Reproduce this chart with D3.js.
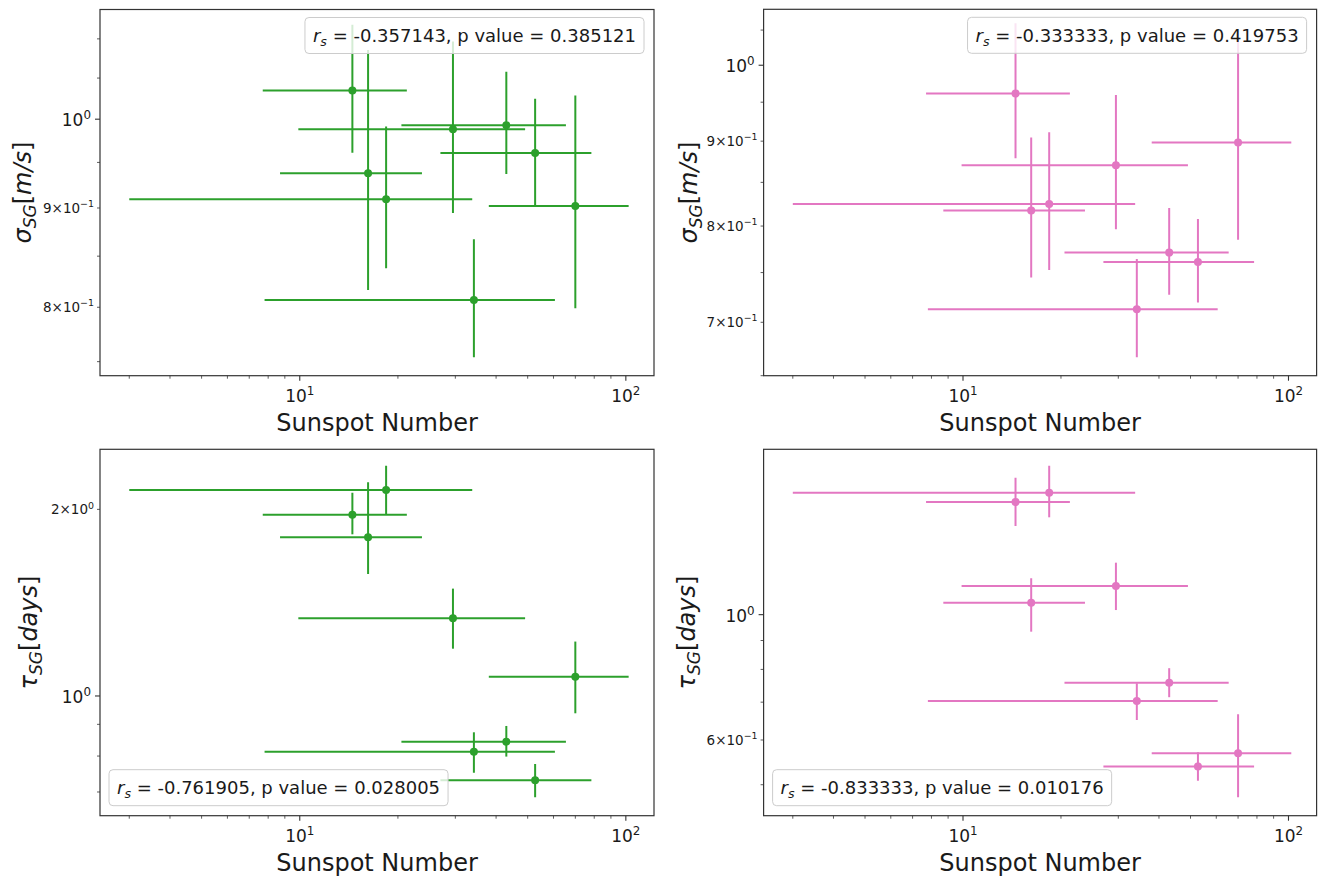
<!DOCTYPE html>
<html><head><meta charset="utf-8">
<script src="https://cdn.jsdelivr.net/npm/d3@7"></script>
<style>
body{margin:0;background:#fff}
text{font-family:"DejaVu Sans",sans-serif;fill:#1a1a1a}
</style>
</head><body>
<svg id="chart" width="1318" height="877"></svg>
<script>
// ---------------- data ----------------
const sunspot    = [14.5, 16.2, 18.4, 29.5, 43.0, 52.7, 70.0, 34.2];
const sunspotErr = [6.8, 7.5, 15.4, 19.6, 22.5, 25.7, 32.0, 26.4];

const sigmaGreen   = [1.0345, 0.9379, 0.9095, 0.9882, 0.9929, 0.9608, 0.9022, 0.8070];
const sigmaGreenLo = [0.9611, 0.8166, 0.8380, 0.8946, 0.9371, 0.9026, 0.7990, 0.7540];
const sigmaGreenHi = [1.1186, 1.0857, 0.9913, 1.0965, 1.0580, 1.0244, 1.0284, 0.8673];

const sigmaPink   = [0.9614, 0.8175, 0.8249, 0.8705, 0.7711, 0.7612, 0.8983, 0.7128];
const sigmaPinkLo = [0.8790, 0.7448, 0.7527, 0.7965, 0.7273, 0.7194, 0.7849, 0.6669];
const sigmaPinkHi = [1.0600, 0.9045, 0.9113, 0.9596, 0.8203, 0.8080, 1.0400, 0.7643];

const tauGreen   = [1.961, 1.803, 2.149, 1.335, 0.8439, 0.7312, 1.074, 0.8132];
const tauGreenLo = [1.823, 1.573, 1.966, 1.192, 0.7984, 0.6864, 0.9377, 0.7522];
const tauGreenHi = [2.128, 2.211, 2.352, 1.490, 0.8946, 0.7768, 1.224, 0.8738];

const tauPink   = [1.583, 1.050, 1.644, 1.124, 0.7580, 0.5383, 0.5684, 0.7035];
const tauPinkLo = [1.436, 0.933, 1.487, 1.019, 0.7143, 0.5083, 0.4751, 0.6509];
const tauPinkHi = [1.748, 1.160, 1.835, 1.236, 0.8040, 0.5707, 0.6664, 0.7560];

const xLimits = [2.44, 122];
const yLimits = [[0.7376, 1.139], [0.650, 1.0807], [0.641, 2.50], [0.4407, 1.962]];

const xMajorTicks  = [10, 100];
const xMajorLabels = [["10", "1"], ["10", "2"]];

const yMajorTicks  = [[1], [1], [1], [1]];
const yMajorLabels = [[["10", "0"]], [["10", "0"]], [["10", "0"]], [["10", "0"]]];
const yMinorLabeledTicks = [[0.9, 0.8], [0.9, 0.8, 0.7], [2], [0.6]];
const yMinorLabels = [
  [["9\u00d710", "\u22121"], ["8\u00d710", "\u22121"]],
  [["9\u00d710", "\u22121"], ["8\u00d710", "\u22121"], ["7\u00d710", "\u22121"]],
  [["2\u00d710", "0"]],
  [["6\u00d710", "\u22121"]]
];

const rsValues = ["-0.357143", "-0.333333", "-0.761905", "-0.833333"];
const pValues  = ["0.385121", "0.419753", "0.028005", "0.010176"];

const xLabelText = "Sunspot Number";
const yLabelSymbols = ["\u03c3", "\u03c3", "\u03c4", "\u03c4"];
const yLabelUnits   = ["m/s", "m/s", "days", "days"];

const GREEN = "#2ca02c", PINK = "#e377c2";

// ---------------- layout ----------------
const panels = [
  {rect: [100, 9.5, 554, 366.2], color: GREEN, v: sigmaGreen, lo: sigmaGreenLo, hi: sigmaGreenHi, ylabX: -69, legend: "tr"},
  {rect: [763.6, 9.3, 553, 366.4], color: PINK, v: sigmaPink, lo: sigmaPinkLo, hi: sigmaPinkHi, ylabX: -67, legend: "tr"},
  {rect: [100, 449.3, 554, 366.4], color: GREEN, v: tauGreen, lo: tauGreenLo, hi: tauGreenHi, ylabX: -63, legend: "bl"},
  {rect: [763.6, 449.3, 553, 366.4], color: PINK, v: tauPink, lo: tauPinkLo, hi: tauPinkHi, ylabX: -69, legend: "bl"}
];

const svg = d3.select("#chart");
const defs = svg.append("defs");

function supText(sel, parts, fs) {
  sel.append("tspan").text(parts[0]);
  sel.append("tspan").attr("font-size", fs * 0.7).attr("dy", -fs * 0.42).text(parts[1]);
}

panels.forEach((p, k) => {
  const [L, T, W, H] = p.rect;
  const x = d3.scaleLog().domain(xLimits).range([L, L + W]);
  const y = d3.scaleLog().domain(yLimits[k]).range([T + H, T]);
  const g = svg.append("g");

  defs.append("clipPath").attr("id", "clip" + k)
    .append("rect").attr("x", L).attr("y", T).attr("width", W).attr("height", H);

  const plot = g.append("g").attr("clip-path", `url(#clip${k})`);
  const idx = d3.range(sunspot.length);

  plot.selectAll("line.xe").data(idx).join("line")
    .attr("x1", i => x(sunspot[i] - sunspotErr[i]))
    .attr("x2", i => x(sunspot[i] + sunspotErr[i]))
    .attr("y1", i => y(p.v[i])).attr("y2", i => y(p.v[i]))
    .attr("stroke", p.color).attr("stroke-width", 2);
  plot.selectAll("line.ye").data(idx).join("line")
    .attr("x1", i => x(sunspot[i])).attr("x2", i => x(sunspot[i]))
    .attr("y1", i => y(p.lo[i])).attr("y2", i => y(p.hi[i]))
    .attr("stroke", p.color).attr("stroke-width", 2);
  plot.selectAll("circle").data(idx).join("circle")
    .attr("cx", i => x(sunspot[i])).attr("cy", i => y(p.v[i]))
    .attr("r", 4).attr("fill", p.color);

  // frame
  g.append("rect").attr("x", L).attr("y", T).attr("width", W).attr("height", H)
    .attr("fill", "none").attr("stroke", "#333").attr("stroke-width", 1.2);

  // x ticks
  const xt = x.ticks();
  xt.forEach(t => {
    const major = xMajorTicks.includes(t);
    g.append("line").attr("x1", x(t)).attr("x2", x(t))
      .attr("y1", T + H).attr("y2", T + H + (major ? 5 : 3))
      .attr("stroke", "#333").attr("stroke-width", major ? 1.1 : 0.8);
  });
  xMajorTicks.forEach((t, j) => {
    const tx = g.append("text").attr("x", x(t)).attr("y", T + H + 26)
      .attr("text-anchor", "middle").attr("font-size", 17);
    supText(tx, xMajorLabels[j], 17);
  });
  g.append("text").attr("x", L + W / 2).attr("y", T + H + 55)
    .attr("text-anchor", "middle").attr("font-size", 24).text(xLabelText);

  // y ticks
  const yt = y.ticks();
  yt.forEach(t => {
    const major = yMajorTicks[k].some(m => Math.abs(m - t) < 1e-9);
    g.append("line").attr("y1", y(t)).attr("y2", y(t))
      .attr("x1", L).attr("x2", L - (major ? 5 : 3))
      .attr("stroke", "#333").attr("stroke-width", major ? 1.1 : 0.8);
  });
  yMajorTicks[k].forEach((t, j) => {
    const tx = g.append("text").attr("x", L - 9).attr("y", y(t) + 7)
      .attr("text-anchor", "end").attr("font-size", 17);
    supText(tx, yMajorLabels[k][j], 17);
  });
  yMinorLabeledTicks[k].forEach((t, j) => {
    const tx = g.append("text").attr("x", L - 6).attr("y", y(t) + 4.8)
      .attr("text-anchor", "end").attr("font-size", 13.5).attr("fill", "#333");
    supText(tx, yMinorLabels[k][j], 13.5);
  });

  // y label
  const cy = T + H / 2, lx = L + p.ylabX;
  const yl = g.append("text").attr("transform", `translate(${lx},${cy}) rotate(-90)`)
    .attr("text-anchor", "middle").attr("font-size", 24);
  yl.append("tspan").attr("font-style", "italic").text(yLabelSymbols[k]);
  yl.append("tspan").attr("font-style", "italic").attr("font-size", 17).attr("dy", 5).text("SG");
  yl.append("tspan").attr("dy", -5).text("[");
  yl.append("tspan").attr("font-style", "italic").text(yLabelUnits[k]);
  yl.append("tspan").text("]");

  // legend
  const lg = g.append("g");
  const box = lg.append("rect");
  const lt = lg.append("text").attr("font-size", 18);
  lt.append("tspan").attr("font-style", "italic").text("r");
  lt.append("tspan").attr("font-style", "italic").attr("font-size", 12.6).attr("dy", 4).text("s");
  lt.append("tspan").attr("dy", -4).text(` = ${rsValues[k]}, p value = ${pValues[k]}`);
  const tw = lt.node().getComputedTextLength();
  const bw = tw + 16, bh = 36;
  let bx, by;
  if (p.legend === "tr") { bx = L + W - 10 - bw; by = T + 8; }
  else { bx = L + 9; by = T + H - 10 - bh; }
  box.attr("x", bx).attr("y", by).attr("width", bw).attr("height", bh)
    .attr("rx", 4).attr("fill", "#fff").attr("fill-opacity", 0.8)
    .attr("stroke", "#cccccc").attr("stroke-width", 1);
  lt.attr("x", bx + 8).attr("y", by + bh / 2 + 6.5);
});
</script>
</body></html>
